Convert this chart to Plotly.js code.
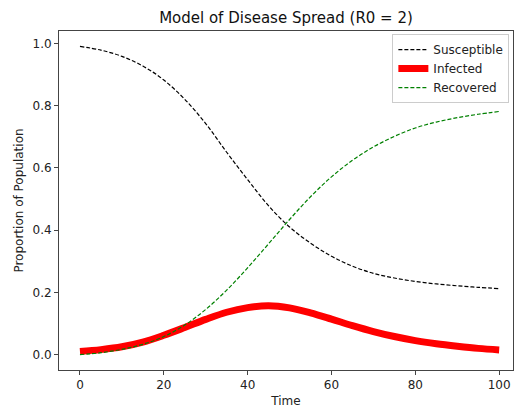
<!DOCTYPE html>
<html>
<head>
<meta charset="utf-8">
<script src="https://cdn.plot.ly/plotly-3.0.1.min.js"></script>
<style>html,body{margin:0;padding:0;background:#fff;}#chart{width:515px;height:408px;}</style>
</head>
<body>
<div id="chart"></div>
<script>
const time = [0,5,10,15,20,25,30,35,40,45,50,55,60,65,70,75,80,85,90,95,100];
const susceptible = [0.990,0.978,0.958,0.927,0.882,0.820,0.742,0.650,0.562,0.478,0.410,0.358,0.316,0.284,0.261,0.246,0.235,0.227,0.221,0.216,0.212];
const infected = [0.010,0.016,0.025,0.040,0.062,0.087,0.113,0.136,0.151,0.157,0.150,0.134,0.114,0.093,0.074,0.058,0.045,0.035,0.027,0.020,0.015];
const recovered = [0.000,0.006,0.017,0.033,0.058,0.095,0.145,0.207,0.279,0.356,0.434,0.507,0.571,0.624,0.667,0.701,0.728,0.747,0.761,0.772,0.781];
const seriesNames = ["Susceptible","Infected","Recovered"];
const tickLabelsX = ["0","20","40","60","80","100"];
const tickLabelsY = ["0.0","0.2","0.4","0.6","0.8","1.0"];

const font = "DejaVu Sans, sans-serif";
const traces = [
  {x: time, y: susceptible, name: seriesNames[0], mode: "lines",
   line: {color: "#000000", width: 1.2, dash: "4px,2px", shape: "spline", smoothing: 1}},
  {x: time, y: infected, name: seriesNames[1], mode: "lines",
   line: {color: "#ff0000", width: 7, shape: "spline", smoothing: 1}},
  {x: time, y: recovered, name: seriesNames[2], mode: "lines",
   line: {color: "#008000", width: 1.2, dash: "4px,2px", shape: "spline", smoothing: 1}}
];
const axisCommon = {
  showgrid: false, zeroline: false, showline: true, mirror: true,
  linecolor: "#444", linewidth: 1, ticks: "outside", ticklen: 4, tickcolor: "#444",
  tickfont: {family: font, size: 12, color: "#222"}, automargin: false
};
const layout = {
  width: 515, height: 408,
  margin: {l: 59, r: 2, t: 31, b: 38},
  paper_bgcolor: "#fff", plot_bgcolor: "#fff",
  font: {family: font, size: 12, color: "#222"},
  title: {text: "Model of Disease Spread (R0 = 2)", font: {family: font, size: 15, color: "#111"},
          x: 0.5, xref: "paper", y: 0.956, yanchor: "middle"},
  xaxis: Object.assign({}, axisCommon, {
    range: [-5, 103.3], tickvals: [0,20,40,60,80,100], ticktext: tickLabelsX,
    title: {text: "Time", font: {family: font, size: 12, color: "#222"}, standoff: 6}
  }),
  yaxis: Object.assign({}, axisCommon, {
    range: [-0.0495, 1.0395], tickvals: [0,0.2,0.4,0.6,0.8,1.0], ticktext: tickLabelsY,
    title: {text: "Proportion of Population", font: {family: font, size: 12, color: "#222"}, standoff: 6}
  }),
  showlegend: true,
  legend: {x: 0.992, y: 0.991, xanchor: "right", yanchor: "top",
           bgcolor: "rgba(255,255,255,0.9)", bordercolor: "#ccc", borderwidth: 1,
           font: {family: font, size: 12, color: "#222"}, tracegroupgap: 0}
};
Plotly.newPlot("chart", traces, layout, {displayModeBar: false, staticPlot: true});
</script>
</body>
</html>
